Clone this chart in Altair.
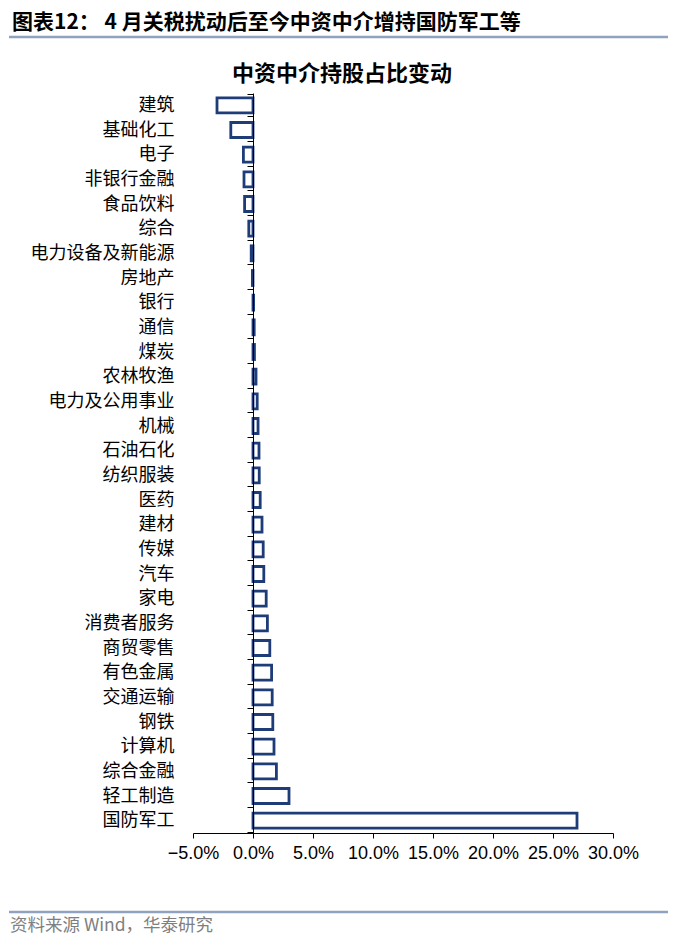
import altair as alt
import pandas as pd

# ---- data ----
categories = [
    "建筑", "基础化工", "电子", "非银行金融", "食品饮料", "综合", "电力设备及新能源",
    "房地产", "银行", "通信", "煤炭", "农林牧渔", "电力及公用事业", "机械", "石油石化",
    "纺织服装", "医药", "建材", "传媒", "汽车", "家电", "消费者服务", "商贸零售",
    "有色金属", "交通运输", "钢铁", "计算机", "综合金融", "轻工制造", "国防军工",
]
values = [
    -3.0, -1.85, -0.8, -0.75, -0.7, -0.35, -0.15,
    -0.05, 0.05, 0.1, 0.12, 0.25, 0.35, 0.42, 0.5,
    0.52, 0.6, 0.75, 0.85, 0.9, 1.1, 1.2, 1.4,
    1.55, 1.6, 1.65, 1.75, 1.95, 3.0, 27.0,
]
x_ticks = [-5, 0, 5, 10, 15, 20, 25, 30]

header_text = "图表12：  4 月关税扰动后至今中资中介增持国防军工等"
chart_title = "中资中介持股占比变动"
footer_text = "资料来源 Wind，华泰研究"

df = pd.DataFrame({"industry": categories, "value": values})

NAVY = "#1E3C78"
LINE = "#8FA3BE"
CJK = "Noto Sans CJK SC"

bars = alt.Chart(df).mark_bar(
    fill="white", stroke=NAVY, strokeWidth=2.8, size=15
).encode(
    x=alt.X(
        "value:Q",
        scale=alt.Scale(domain=[-5, 30], nice=False, zero=False),
        axis=alt.Axis(
            values=x_ticks, title=None, grid=False,
            labelExpr="format(datum.value, '.1f') + '%'",
            labelFont="Liberation Sans", labelFontSize=18, labelColor="black",
            labelPadding=6, tickSize=5, tickColor="black", domainColor="black",
            labelFlush=False, labelOverlap=False,
        ),
    ),
    y=alt.Y(
        "industry:N", sort=categories,
        axis=alt.Axis(
            title=None, grid=False, offset=-60, tickBand="extent",
            tickSize=6, tickColor="black", domainColor="black",
            labelFont=CJK, labelFontSize=18, labelColor="black",
            labelPadding=73, zindex=1,
        ),
    ),
)

one = pd.DataFrame({"t": [0]})

header = alt.Chart(pd.DataFrame({"t": [header_text]})).mark_text(
    align="left", baseline="alphabetic", font=CJK, fontSize=21, fontWeight="bold", color="black"
).encode(x=alt.value(-181), y=alt.value(-64), text="t:N")

title = alt.Chart(pd.DataFrame({"t": [chart_title]})).mark_text(
    align="center", baseline="alphabetic", font=CJK, fontSize=22, fontWeight="bold", color="black"
).encode(x=alt.value(149), y=alt.value(-12), text="t:N")

footer = alt.Chart(pd.DataFrame({"t": [footer_text]})).mark_text(
    align="left", baseline="alphabetic", font=CJK, fontSize=17.5, color="#7F7F7F"
).encode(x=alt.value(-183), y=alt.value(838), text="t:N")

top_line = alt.Chart(one).mark_rule(color=LINE, strokeWidth=2.5).encode(
    x=alt.value(-184), x2=alt.value(475), y=alt.value(-56)
)
bottom_line = alt.Chart(one).mark_rule(color=LINE, strokeWidth=2.5).encode(
    x=alt.value(-184), x2=alt.value(475), y=alt.value(819)
)

chart = alt.layer(bars, header, title, footer, top_line, bottom_line).properties(
    width=420, height=740,
    autosize=alt.AutoSizeParams(type="none"),
    padding={"left": 185, "top": 85, "right": 55, "bottom": 102},
).configure_view(stroke=None)

chart.save("out.html", embed_options={"renderer": "svg", "actions": False})
